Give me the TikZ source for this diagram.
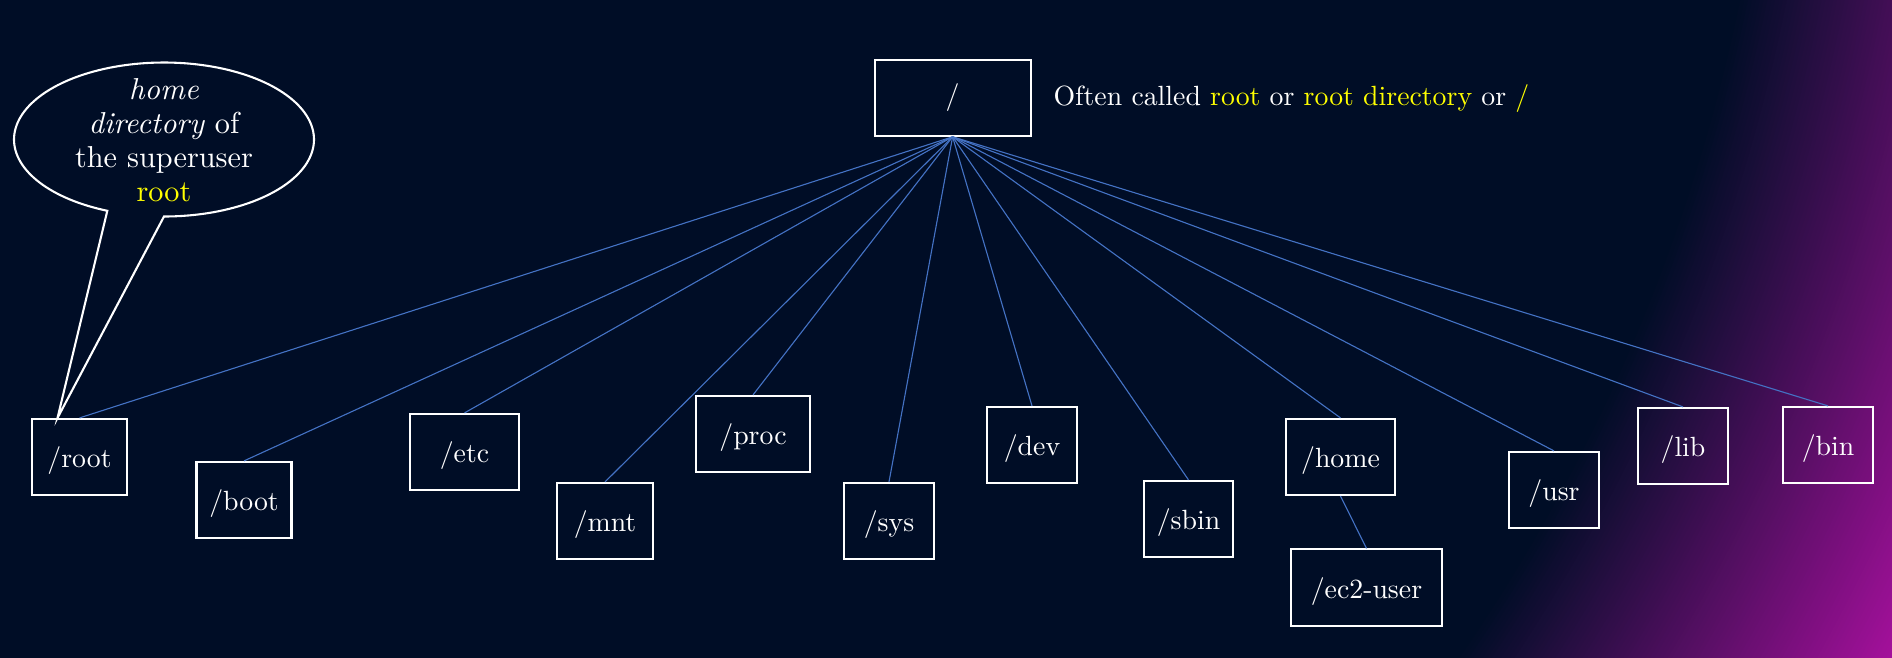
\documentclass[tikz,border=0pt]{standalone}
\usetikzlibrary{calc}
\definecolor{bgnavy}{RGB}{0,13,38}
\definecolor{bgmag}{RGB}{168,16,158}
\definecolor{linkblue}{RGB}{68,114,196}
\definecolor{hl}{RGB}{255,255,0}
\begin{document}
\begin{tikzpicture}[x=0.36pt,y=-0.36pt,
  dir/.style={draw=white, line width=0.75pt, text=white, minimum height=27.4pt, inner sep=0pt},
  childdir/.style={dir, text height=9pt, text depth=1.2pt},
  link/.style={draw=linkblue, line width=0.4pt},
  balloon/.style={draw=white, line width=0.75pt},
  plain/.style={text=white, inner sep=0pt}]
\fill[bgnavy] (0,0) rectangle (1892,657);
\begin{scope}
  \clip (0,0) rectangle (1892,657);
  \foreach \i in {100,99,...,1} {
    \pgfmathsetmacro{\rr}{1804+3.8*\i}
    \fill[bgmag!\i!bgnavy] (-27,-365) circle (\rr);
  }
  \fill[bgnavy] (-27,-365) circle (1804);
\end{scope}
\useasboundingbox (0,0) rectangle (1892,657);

\node[dir, minimum width=56.2pt] (top) at (952.6,97.7) {/};
\node[plain, anchor=base west] (note) at (1053,105.5) {Often called \textcolor{hl}{root} or \textcolor{hl}{root directory} or \textcolor{hl}{/}};

\node[childdir, minimum width=34.2pt] (root) at (79.5,457) {/root};
\node[childdir, minimum width=34.2pt] (boot) at (244,500) {/boot};
\node[childdir, minimum width=39.3pt] (etc) at (464.5,452) {/etc};
\node[childdir, minimum width=34.6pt] (mnt) at (605,521) {/mnt};
\node[childdir, minimum width=41.1pt] (proc) at (753,434) {/proc};
\node[childdir, minimum width=32.4pt] (sys) at (889,521) {/sys};
\node[childdir, minimum width=32.4pt] (dev) at (1032,445) {/dev};
\node[childdir, minimum width=32.1pt] (sbin) at (1188.5,519) {/sbin};
\node[childdir, minimum width=39.3pt] (home) at (1340.5,457) {/home};
\node[childdir, minimum width=54.4pt] (ec2) at (1366.5,587.5) {/ec2-user};
\node[childdir, minimum width=32.4pt] (usr) at (1554,490) {/usr};
\node[childdir, minimum width=32.4pt] (lib) at (1683,446) {/lib};
\node[childdir, minimum width=32.4pt] (bin) at (1828,445) {/bin};

\foreach \c in {root,boot,etc,mnt,proc,sys,dev,sbin,home,usr,lib,bin}
  \draw[link] (top.south) -- (\c.north);
\draw[link] (home.south) -- (ec2.north);

\coordinate (tip) at (57.5,418);
\draw[balloon] (tip) -- plot[domain=112.2:450, samples=160] ({164+150*cos(\x)},{139.5+77*sin(\x)}) -- cycle;
\node[plain, align=center, font=\fontsize{10.9}{12.2}\selectfont] (btext) at (164,140) {\textit{home}\\\textit{directory} of\\the superuser\\\textcolor{hl}{root}};
\end{tikzpicture}
\end{document}
